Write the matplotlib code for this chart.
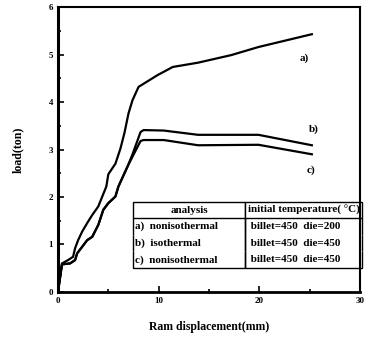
import matplotlib
matplotlib.use("Agg")
import matplotlib.pyplot as plt
from matplotlib.ticker import MultipleLocator

# curve a) nonisothermal, die=200
xa = [0.0, 0.4, 1.0, 1.5, 1.7, 2.0, 2.4, 2.9, 3.4, 4.0, 4.4, 4.8, 5.0, 5.7, 6.2,
      6.6, 7.0, 7.4, 8.0, 9.9, 11.4, 13.9, 17.2, 19.9, 25.2]
ya = [0.0, 0.60, 0.67, 0.74, 0.92, 1.09, 1.27, 1.45, 1.62, 1.80, 2.01, 2.22, 2.48,
      2.70, 3.02, 3.35, 3.76, 4.04, 4.32, 4.57, 4.74, 4.83, 4.99, 5.16, 5.43]

# curve b) isothermal
xb = [0.0, 0.4, 1.2, 1.7, 1.9, 2.4, 2.9, 3.4, 4.0, 4.5, 5.0, 5.7, 6.0, 6.9, 7.4,
      8.2, 8.5, 10.5, 13.9, 19.9, 25.2]
yb = [0.0, 0.58, 0.60, 0.67, 0.81, 0.95, 1.09, 1.16, 1.41, 1.73, 1.87, 2.01, 2.22,
      2.64, 2.90, 3.37, 3.41, 3.40, 3.31, 3.31, 3.09]

# curve c) nonisothermal, die=450
xc = [0.0, 0.4, 1.2, 1.7, 1.9, 2.4, 2.9, 3.4, 4.0, 4.5, 5.0, 5.7, 6.0, 6.9, 7.4,
      8.2, 8.5, 10.5, 13.9, 19.9, 25.2]
yc = [0.0, 0.58, 0.60, 0.67, 0.81, 0.95, 1.09, 1.16, 1.41, 1.73, 1.87, 2.01, 2.22,
      2.64, 2.85, 3.18, 3.20, 3.20, 3.09, 3.10, 2.90]

col_labels = ["analysis", "initial temperature( \u00b0C)"]
rows = [["a)  nonisothermal", " billet=450  die=200"],
        ["b)  isothermal", " billet=450  die=450"],
        ["c)  nonisothermal", " billet=450  die=450"]]

plt.rcParams['font.family'] = ['Liberation Serif', 'DejaVu Serif']
plt.rcParams['font.weight'] = 'bold'

fig = plt.figure(figsize=(3.89, 3.41), dpi=100)
ax = fig.add_axes([0.149, 0.144, 0.777, 0.835])

for x, y in [(xa, ya), (xb, yb), (xc, yc)]:
  ax.plot(x, y, color='black', lw=1.6)

ax.text(24.0, 4.88, "a)", fontsize=8, fontweight='bold')
ax.text(24.9, 3.38, "b)", fontsize=8, fontweight='bold')
ax.text(24.7, 2.52, "c)", fontsize=8, fontweight='bold')

ax.set_xlim(0, 30)
ax.set_ylim(0, 6)
ax.xaxis.set_major_locator(MultipleLocator(10))
ax.xaxis.set_minor_locator(MultipleLocator(5))
ax.yaxis.set_major_locator(MultipleLocator(1))
ax.yaxis.set_minor_locator(MultipleLocator(0.5))
ax.tick_params(which='both', direction='in', labelsize=6.5, width=1.2)
ax.tick_params(which='major', length=4)
ax.tick_params(which='minor', length=2)
for lab in ax.get_xticklabels() + ax.get_yticklabels():
  lab.set_fontweight('bold')
for s in ax.spines.values():
  s.set_linewidth(1.5)
ax.spines['left'].set_linewidth(2.2)
ax.spines['bottom'].set_linewidth(2.0)

ax.set_xlabel("Ram displacement(mm)", fontsize=8.5, fontweight='bold', labelpad=12)
ax.set_ylabel("load(ton)", fontsize=8.5, fontweight='bold', labelpad=18)

tbl = ax.table(cellText=rows, colLabels=col_labels, cellLoc='left',
               colWidths=[0.49, 0.51], bbox=[0.248, 0.084, 0.759, 0.232])
tbl.auto_set_font_size(False)
for (r, c), cell in tbl.get_celld().items():
  cell.set_linewidth(1.0)
  cell.get_text().set_fontsize(8)
  cell.get_text().set_fontweight('bold')
  cell.PAD = 0.02
  if r == 0:
    cell.visible_edges = 'closed'
    cell.get_text().set_ha('center')
    cell._loc = 'center'
  elif r == len(rows):
    cell.visible_edges = 'LRB'
  else:
    cell.visible_edges = 'LR'
tbl.set_clip_on(False)

plt.savefig('out.png', dpi=100)
